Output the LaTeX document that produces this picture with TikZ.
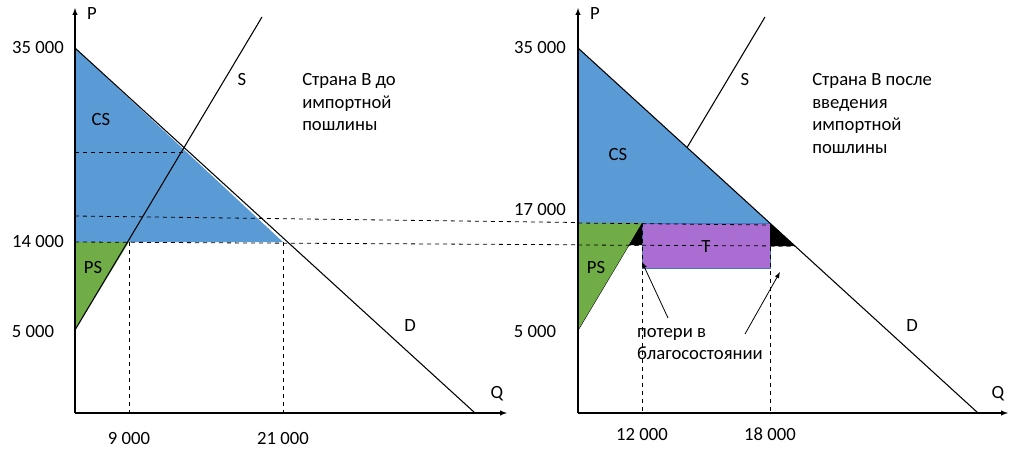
\documentclass[tikz,border=0pt]{standalone}
\usepackage{fontspec}
\setmainfont{Carlito}
\begin{document}
\begin{tikzpicture}[x=0.75pt,y=-0.75pt,
 lbl/.style={font=\fontsize{14}{17}\selectfont,inner sep=0pt},
 ax/.style={-latex,line width=0.8pt},
 dsh/.style={dashed,line width=0.6pt},
 cur/.style={line width=0.8pt},
 blueA/.style={fill={rgb,255:red,91;green,155;blue,213}},
 greenA/.style={fill={rgb,255:red,112;green,173;blue,71}},
 purpA/.style={fill={rgb,255:red,170;green,110;blue,210},draw={rgb,255:red,70;green,114;blue,196}}]
\useasboundingbox (0,0) rectangle (1024,450);
% left panel
\fill[blueA] (75,48) -- (283,242) -- (75,242) -- cycle;
\fill[greenA] (75,242) -- (129,242) -- (75,330) -- cycle;
\draw[dsh] (75,152) -- (185,152);
\draw[dsh] (75,216) -- (770,225);
\draw[dsh] (75,242) -- (795,246);
\draw[dsh] (129,242) -- (129,413);
\draw[dsh] (283,242) -- (283,413);
\draw[cur] (75,48) -- (475,413);
\draw[cur] (75,330) -- (262,17);
\draw[ax] (75,413) -- (75,8);
\draw[ax] (75,413) -- (507,413);
\node[lbl] (p1) at (92,14) {P};
\node[lbl] (q1) at (497,394) {Q};
\node[lbl] (a1) at (38,48) {35 000};
\node[lbl] (a2) at (38,242) {14 000};
\node[lbl] (a3) at (33,332) {5 000};
\node[lbl] (b1) at (129,438) {9 000};
\node[lbl] (b2) at (283,438) {21 000};
\node[lbl] (cs1) at (101,120) {CS};
\node[lbl] (ps1) at (93,268) {PS};
\node[lbl] (s1) at (242,80) {S};
\node[lbl] (d1) at (410,326) {D};
\node[lbl,align=left,anchor=north west] (t1) at (302,73) {Страна В до\\импортной\\пошлины};
% right panel
\draw[cur] (578,330) -- (765,17);
\fill[blueA] (578,48) -- (770,223) -- (578,223) -- cycle;
\fill[greenA] (578,223) -- (642,223) -- (578,330) -- cycle;
\draw[purpA] (642,223) rectangle (770,268);
\fill (629,245) -- (642,223) -- (642,245) -- cycle;
\fill (770,223) -- (795,246) -- (770,246) -- cycle;
\draw[dsh] (642,223) -- (642,413);
\draw[dsh] (770,223) -- (770,413);
\draw[dsh] (578,245) -- (795,246);
\draw[dsh] (578,223) -- (770,225);
\draw[cur] (578,48) -- (978,413);
\draw[ax] (578,413) -- (578,8);
\draw[ax] (578,413) -- (1008,413);
\node[lbl] (p2) at (595,14) {P};
\node[lbl] (q2) at (998,394) {Q};
\node[lbl] (c1) at (540,48) {35 000};
\node[lbl] (c2) at (540,210) {17 000};
\node[lbl] (c3) at (535,332) {5 000};
\node[lbl] (e1) at (642,434) {12 000};
\node[lbl] (e2) at (770,434) {18 000};
\node[lbl] (cs2) at (618,155) {CS};
\node[lbl] (ps2) at (596,268) {PS};
\node[lbl] (tt) at (706,247) {T};
\node[lbl] (s2) at (745,80) {S};
\node[lbl] (d2) at (912,326) {D};
\node[lbl,align=left,anchor=north west] (t2) at (812,73) {Страна В после\\введения\\импортной\\пошлины};
\node[lbl,align=left] (loss) at (700,344) {потери в\\благосостоянии};
\coordinate (h1) at (642,262);
\coordinate (h2) at (780,272);
\draw[-latex,line width=0.6pt] (668,318) -- (h1);
\draw[-latex,line width=0.6pt] (745,334) -- (h2);
\end{tikzpicture}
\end{document}
